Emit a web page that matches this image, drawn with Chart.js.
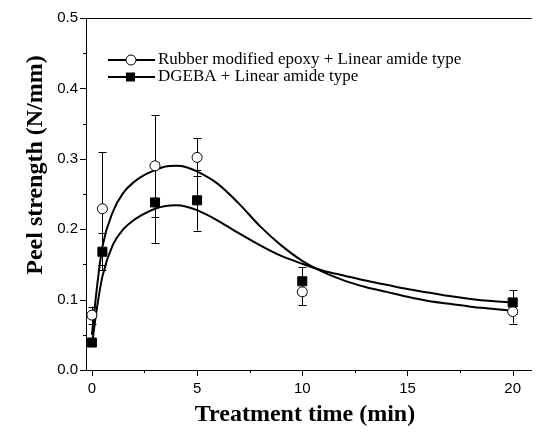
<!DOCTYPE html>
<html>
<head>
<meta charset="utf-8">
<script src="https://cdn.jsdelivr.net/npm/chart.js@4/dist/chart.umd.min.js"></script>
<style>
  html, body { margin: 0; padding: 0; background: #fff; }
  #wrap { width: 539px; height: 437px; }
</style>
</head>
<body>
<div id="wrap"><canvas id="peelChart" width="539" height="437"></canvas></div>
<script>
// measured points
const xTimes = [0, 0.5, 3, 5, 10, 20];
const rubberPeel = [0.078, 0.229, 0.290, 0.302, 0.111, 0.083];
const rubberErr = [0.012, 0.080, 0.072, 0.027, 0.019, 0.017];
const dgebaPeel = [0.039, 0.168, 0.238, 0.241, 0.126, 0.096];
const dgebaErr = [0.004, 0.026, 0.058, 0.043, 0.020, 0.017];

// fitted curves
const fitTimes = [0, 0.25, 0.5, 1, 1.5, 2, 2.5, 3, 3.5, 4, 4.5, 5, 6, 7, 8, 9, 10, 11, 12, 13, 14, 15, 16, 17, 18, 19, 20];
const rubberFit = [0.050, 0.120, 0.175, 0.225, 0.252, 0.267, 0.277, 0.284, 0.289, 0.290, 0.288, 0.282, 0.264, 0.236, 0.204, 0.177, 0.155, 0.139, 0.127, 0.118, 0.111, 0.104, 0.098, 0.094, 0.090, 0.087, 0.084];
const dgebaFit = [0.035, 0.090, 0.133, 0.178, 0.200, 0.213, 0.222, 0.229, 0.233, 0.234, 0.232, 0.227, 0.212, 0.194, 0.177, 0.162, 0.151, 0.141, 0.134, 0.127, 0.121, 0.115, 0.110, 0.105, 0.101, 0.098, 0.096];

const xTickValues = [0, 2.5, 5, 7.5, 10, 12.5, 15, 17.5, 20];
const xTickLabels = ['0', '', '5', '', '10', '', '15', '', '20'];
const yTickValues = [0, 0.05, 0.1, 0.15, 0.2, 0.25, 0.3, 0.35, 0.4, 0.45, 0.5];
const yTickLabels = ['0.0', '', '0.1', '', '0.2', '', '0.3', '', '0.4', '', '0.5'];

const legendLabels = ['Rubber modified epoxy + Linear amide type', 'DGEBA + Linear amide type'];
const xTitle = 'Treatment time (min)';
const yTitle = 'Peel strength (N/mm)';

function pts(xs, ys) {
    return xs.map(function(x, i) { return { x: x, y: ys[i] }; });
}

// error bars under the markers
const errorBars = {
    id: 'errorBars',
    beforeDatasetsDraw(chart) {
        const ctx = chart.ctx;
        const xs = chart.scales.x, ys = chart.scales.y;
        ctx.save();
        ctx.strokeStyle = '#000';
        ctx.lineWidth = 1;
        chart.data.datasets.forEach(function(ds) {
            if (!ds.err) return;
            ds.data.forEach(function(p, i) {
                const px = Math.round(xs.getPixelForValue(p.x)) + 0.5;
                const top = ys.getPixelForValue(p.y + ds.err[i]);
                const bot = ys.getPixelForValue(p.y - ds.err[i]);
                ctx.beginPath();
                ctx.moveTo(px, top); ctx.lineTo(px, bot);
                ctx.moveTo(px - 4, Math.round(top) + 0.5); ctx.lineTo(px + 4, Math.round(top) + 0.5);
                ctx.moveTo(px - 4, Math.round(bot) + 0.5); ctx.lineTo(px + 4, Math.round(bot) + 0.5);
                ctx.stroke();
            });
        });
        ctx.restore();
    }
};

// tick marks, top frame line, axis titles and legend
const frame = {
    id: 'frame',
    afterDraw(chart) {
        const ctx = chart.ctx;
        const a = chart.chartArea;
        const xs = chart.scales.x, ys = chart.scales.y;
        ctx.save();
        ctx.strokeStyle = '#000';
        ctx.lineWidth = 1;
        ctx.beginPath();
        ctx.moveTo(a.left, a.top + 0.5); ctx.lineTo(a.right, a.top + 0.5);
        xs.ticks.forEach(function(t, i) {
            const px = Math.round(xs.getPixelForValue(t.value)) + 0.5;
            const len = xTickLabels[i] ? 6 : 3;
            ctx.moveTo(px, a.bottom); ctx.lineTo(px, a.bottom + len);
        });
        ys.ticks.forEach(function(t, i) {
            const py = Math.round(ys.getPixelForValue(t.value)) + 0.5;
            const len = yTickLabels[i] ? 6 : 3;
            ctx.moveTo(a.left, py); ctx.lineTo(a.left - len, py);
        });
        ctx.stroke();

        // axis titles
        ctx.fillStyle = '#000';
        ctx.font = 'bold 24px "Liberation Serif", "Times New Roman", serif';
        ctx.textAlign = 'center';
        ctx.textBaseline = 'middle';
        ctx.fillText(xTitle, 305, 415);
        ctx.save();
        ctx.translate(36, 165);
        ctx.rotate(-Math.PI / 2);
        ctx.fillText(yTitle, 0, 0);
        ctx.restore();

        // legend
        ctx.font = '17px "Liberation Serif", "Times New Roman", serif';
        ctx.textAlign = 'left';
        ctx.textBaseline = 'middle';
        const rows = [60, 77];
        rows.forEach(function(ry, i) {
            ctx.lineWidth = 2;
            ctx.beginPath();
            ctx.moveTo(108, ry); ctx.lineTo(155, ry);
            ctx.stroke();
            ctx.lineWidth = 1;
            if (i === 0) {
                ctx.beginPath();
                ctx.arc(131, ry, 5, 0, Math.PI * 2);
                ctx.fillStyle = '#fff';
                ctx.fill();
                ctx.stroke();
            } else {
                ctx.fillStyle = '#000';
                ctx.fillRect(126, ry - 4.5, 9, 9);
            }
            ctx.fillStyle = '#000';
            ctx.fillText(legendLabels[i], 158, ry);
        });
        ctx.restore();
    }
};

const config = {
    type: 'scatter',
    data: {
        datasets: [
            {
                label: legendLabels[1],
                data: pts(xTimes, dgebaPeel),
                err: dgebaErr,
                pointStyle: 'rect',
                pointRadius: 6.4,
                pointBackgroundColor: '#000',
                pointBorderColor: '#000',
                pointBorderWidth: 1
            },
            {
                label: legendLabels[0],
                data: pts(xTimes, rubberPeel),
                err: rubberErr,
                pointStyle: 'circle',
                pointRadius: 5,
                pointBackgroundColor: '#fff',
                pointBorderColor: '#000',
                pointBorderWidth: 1
            },
            {
                label: 'rubber fit',
                data: pts(fitTimes, rubberFit),
                showLine: true,
                cubicInterpolationMode: 'monotone',
                borderColor: '#000',
                borderWidth: 2,
                pointRadius: 0
            },
            {
                label: 'dgeba fit',
                data: pts(fitTimes, dgebaFit),
                showLine: true,
                cubicInterpolationMode: 'monotone',
                borderColor: '#000',
                borderWidth: 2,
                pointRadius: 0
            }
        ]
    },
    options: {
        responsive: false,
        animation: false,
        events: [],
        layout: { padding: { top: 18, right: 1, left: 0, bottom: 0 } },
        plugins: {
            legend: { display: false },
            tooltip: { enabled: false }
        },
        scales: {
            x: {
                type: 'linear',
                min: -0.28,
                max: 20.9,
                afterBuildTicks: function(scale) {
                    scale.ticks = xTickValues.map(function(v) { return { value: v }; });
                },
                afterFit: function(scale) { scale.height = 67; },
                grid: { display: true, drawOnChartArea: false, drawTicks: false },
                border: { display: true, color: '#000', width: 1 },
                ticks: {
                    autoSkip: false,
                    maxRotation: 0,
                    padding: 10,
                    color: '#000',
                    font: { family: '"Liberation Sans", Arial, sans-serif', size: 15 },
                    callback: function(v, i) { return xTickLabels[i]; }
                }
            },
            y: {
                type: 'linear',
                min: 0,
                max: 0.5,
                afterBuildTicks: function(scale) {
                    scale.ticks = yTickValues.map(function(v) { return { value: v }; });
                },
                afterFit: function(scale) { scale.width = 86; },
                grid: { display: true, drawOnChartArea: false, drawTicks: false },
                border: { display: true, color: '#000', width: 1 },
                ticks: {
                    autoSkip: false,
                    padding: 8,
                    color: '#000',
                    font: { family: '"Liberation Sans", Arial, sans-serif', size: 15 },
                    callback: function(v, i) { return yTickLabels[i]; }
                }
            }
        }
    },
    plugins: [errorBars, frame]
};

const peelChart = new Chart(document.getElementById('peelChart'), config);
</script>
</body>
</html>
